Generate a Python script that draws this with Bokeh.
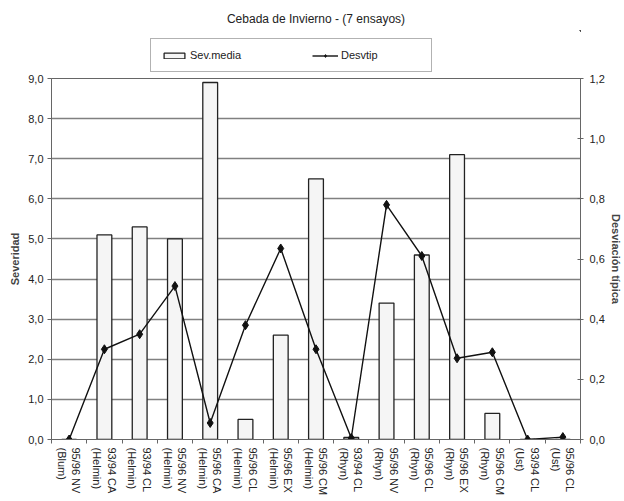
import numpy as np
from bokeh.plotting import figure
from bokeh.layouts import column
from bokeh.models import (Range1d, LinearAxis, FixedTicker, CustomJSTickFormatter,
                          Legend, LegendItem)
from bokeh.embed import file_html
from bokeh.resources import INLINE

trials = ["95/96 NV", "93/94 CA", "93/94 CL", "95/96 NV", "95/96 CA", "95/96 CL",
          "95/96 EX", "95/96 CM", "93/94 CL", "95/96 NV", "95/96 CL", "95/96 EX",
          "95/96 CM", "93/94 CL", "95/96 CL"]
pathogens = ["(Blum)", "(Helmin)", "(Helmin)", "(Helmin)", "(Helmin)", "(Helmin)",
             "(Helmin)", "(Helmin)", "(Rhyn)", "(Rhyn)", "(Rhyn)", "(Rhyn)",
             "(Rhyn)", "(Ust)", "(Ust)"]
sev_media = [0.0, 5.1, 5.3, 5.0, 8.9, 0.5, 2.6, 6.5, 0.05, 3.4, 4.6, 7.1, 0.65, 0.0, 0.0]
desv_tip = [0.0, 0.30, 0.35, 0.51, 0.055, 0.38, 0.635, 0.30, 0.005, 0.78, 0.61, 0.27, 0.29, 0.0, 0.008]
left_ticks = [0, 1, 2, 3, 4, 5, 6, 7, 8, 9]
right_ticks = [0.0, 0.2, 0.4, 0.6, 0.8, 1.0, 1.2]

categories = [t + "\n" + g for t, g in zip(trials, pathogens)]
n = len(categories)
xc = [i + 0.5 for i in range(n)]
FONT = "Liberation Sans"

BAR_STYLE = dict(fill_color="#f5f5f5", line_color="#222222", line_width=1.3)
LINE_STYLE = dict(line_color="#111111", line_width=1.4)
MARK_STYLE = dict(marker="diamond", size=9, fill_color="#111111", line_color="#111111")

# ---------- header figure: title + legend ----------
head = figure(width=624, height=73, output_backend="svg", toolbar_location=None,
              x_range=Range1d(-10, -9), y_range=Range1d(-10, -9),
              x_axis_location=None, y_axis_location=None,
              min_border_left=51, min_border_right=44, min_border_bottom=0,
              min_border_top=30)
head.outline_line_color = None
head.grid.visible = False
head.title.text = "Cebada de Invierno - (7 ensayos)"
head.title.align = "center"
head.title.offset = -18
head.title.text_font = FONT
head.title.text_font_size = "12px"
head.title.text_font_style = "normal"
head.title.text_color = "#222222"

hb = head.vbar(x=xc, top=sev_media, width=0.42, bottom=0, **BAR_STYLE)
hl = head.line(x=xc, y=desv_tip, **LINE_STYLE)
hm = head.scatter(x=xc, y=desv_tip, **MARK_STYLE)

legend = Legend(items=[LegendItem(label="Sev.media", renderers=[hb]),
                       LegendItem(label="Desvtip", renderers=[hl, hm])],
                orientation="horizontal", location=(99, 1))
legend.label_text_font = FONT
legend.label_text_font_size = "11px"
legend.label_text_color = "#222222"
legend.glyph_width = 26
legend.glyph_height = 7
legend.label_width = 80
legend.label_standoff = 3
legend.spacing = 42
legend.padding = 10
legend.border_line_color = "#666666"
legend.border_line_width = 1.3
head.add_layout(legend)

# ---------- main chart ----------
p = figure(width=624, height=428, output_backend="svg", toolbar_location=None,
           x_range=Range1d(0, n), y_range=Range1d(0, 9),
           min_border_left=51, min_border_right=44, min_border_bottom=62,
           min_border_top=5)
p.extra_y_ranges = {"dt": Range1d(0, 1.2)}

fmt = CustomJSTickFormatter(code="return tick.toFixed(1).replace('.', ',');")
xfmt = CustomJSTickFormatter(args=dict(labels=categories),
                             code="return labels[Math.floor(tick)];")

xaxis = p.xaxis[0]
xaxis.ticker = FixedTicker(ticks=xc, minor_ticks=list(range(n + 1)))
xaxis.formatter = xfmt
xaxis.major_tick_out = 0
xaxis.major_tick_in = 0
xaxis.minor_tick_out = 4
xaxis.minor_tick_in = 0
xaxis.major_label_orientation = "vertical"
xaxis.major_label_text_font = FONT
xaxis.major_label_text_font_size = "11px"
xaxis.major_label_text_color = "#222222"
xaxis.major_label_standoff = 4
xaxis.axis_line_color = "#666666"
xaxis.minor_tick_line_color = "#666666"

laxis = p.yaxis[0]
laxis.ticker = FixedTicker(ticks=left_ticks)
laxis.formatter = fmt
laxis.axis_label = "Severidad"
laxis.major_tick_out = 4
laxis.major_tick_in = 0
laxis.minor_tick_line_color = None
laxis.major_label_text_font = FONT
laxis.major_label_text_font_size = "11px"
laxis.major_label_text_color = "#222222"
laxis.major_label_standoff = 4
laxis.axis_label_text_font = FONT
laxis.axis_label_text_font_size = "11px"
laxis.axis_label_text_font_style = "bold"
laxis.axis_label_standoff = 4
laxis.axis_line_color = "#666666"
laxis.major_tick_line_color = "#666666"

raxis = LinearAxis(y_range_name="dt", ticker=FixedTicker(ticks=right_ticks), formatter=fmt,
                   axis_label="Desviación típica")
raxis.major_tick_out = 3
raxis.major_tick_in = 3
raxis.minor_tick_line_color = None
raxis.major_label_text_font = FONT
raxis.major_label_text_font_size = "11px"
raxis.major_label_text_color = "#222222"
raxis.major_label_standoff = 6
raxis.axis_label_text_font = FONT
raxis.axis_label_text_font_size = "11px"
raxis.axis_label_text_font_style = "bold"
raxis.axis_label_standoff = 2
raxis.axis_line_color = "#666666"
raxis.major_tick_line_color = "#666666"
p.add_layout(raxis, "right")

p.ygrid.ticker = FixedTicker(ticks=left_ticks)
p.ygrid.grid_line_color = "#808080"
p.ygrid.grid_line_width = 1.3
p.xgrid.visible = False
p.outline_line_color = "#666666"

p.vbar(x=xc, top=sev_media, width=0.42, bottom=0, **BAR_STYLE)
p.line(x=xc, y=desv_tip, y_range_name="dt", **LINE_STYLE)
p.scatter(x=xc, y=desv_tip, y_range_name="dt", **MARK_STYLE)

layout = column(head, p, spacing=0)
open("out.html", "w").write(file_html(layout, INLINE))
